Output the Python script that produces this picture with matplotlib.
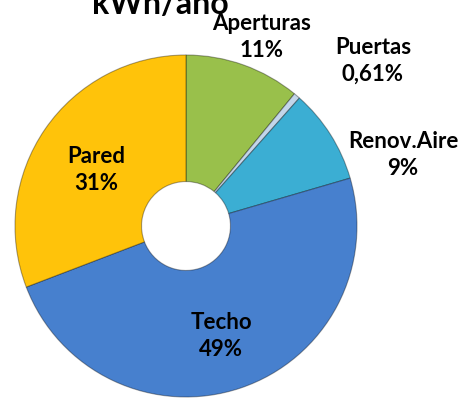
import matplotlib.pyplot as plt

# data
labels = ['Aperturas', 'Puertas', 'Renov.Aire', 'Techo', 'Pared']
values = [11, 0.61, 9, 49, 31]
pct_text = ['11%', '0,61%', '9%', '49%', '31%']
colors = ['#99C04B', '#C3D6EA', '#3BAED3', '#4780CE', '#FFC30A']

# label centers in pixels (x, y from top)
label_pos = [(262, 37), (373, 61), (403, 155), (221, 336), (96, 170)]

W, H = 462, 402
fig = plt.figure(figsize=(W / 100, H / 100), dpi=100)

# pie geometry (pixels)
cx, cy, r = 186, 227, 171
ax = fig.add_axes([(cx - r) / W, (H - cy - r) / H, 2 * r / W, 2 * r / H])

ax.pie(values, colors=colors, startangle=90, counterclock=False,
       radius=1, wedgeprops=dict(width=0.74, edgecolor=(0, 0, 0, 0.35), linewidth=0.8))
ax.set_xlim(-1, 1)
ax.set_ylim(-1, 1)
ax.set_aspect('equal')
ax.axis('off')

font = 'Lato'
for lab, p, (x, y) in zip(labels, pct_text, label_pos):
    fig.text(x / W, 1 - y / H, lab + '\n' + p, ha='center', va='center',
             fontsize=16, fontweight='bold', family=font, linespacing=1.35)

# title, cut off at top like the original
fig.text(160 / W, 1 - 14 / H, 'kWh/año', ha='center', va='baseline',
         fontsize=23, fontweight='bold', family=font)

fig.savefig('out.png', dpi=100)
